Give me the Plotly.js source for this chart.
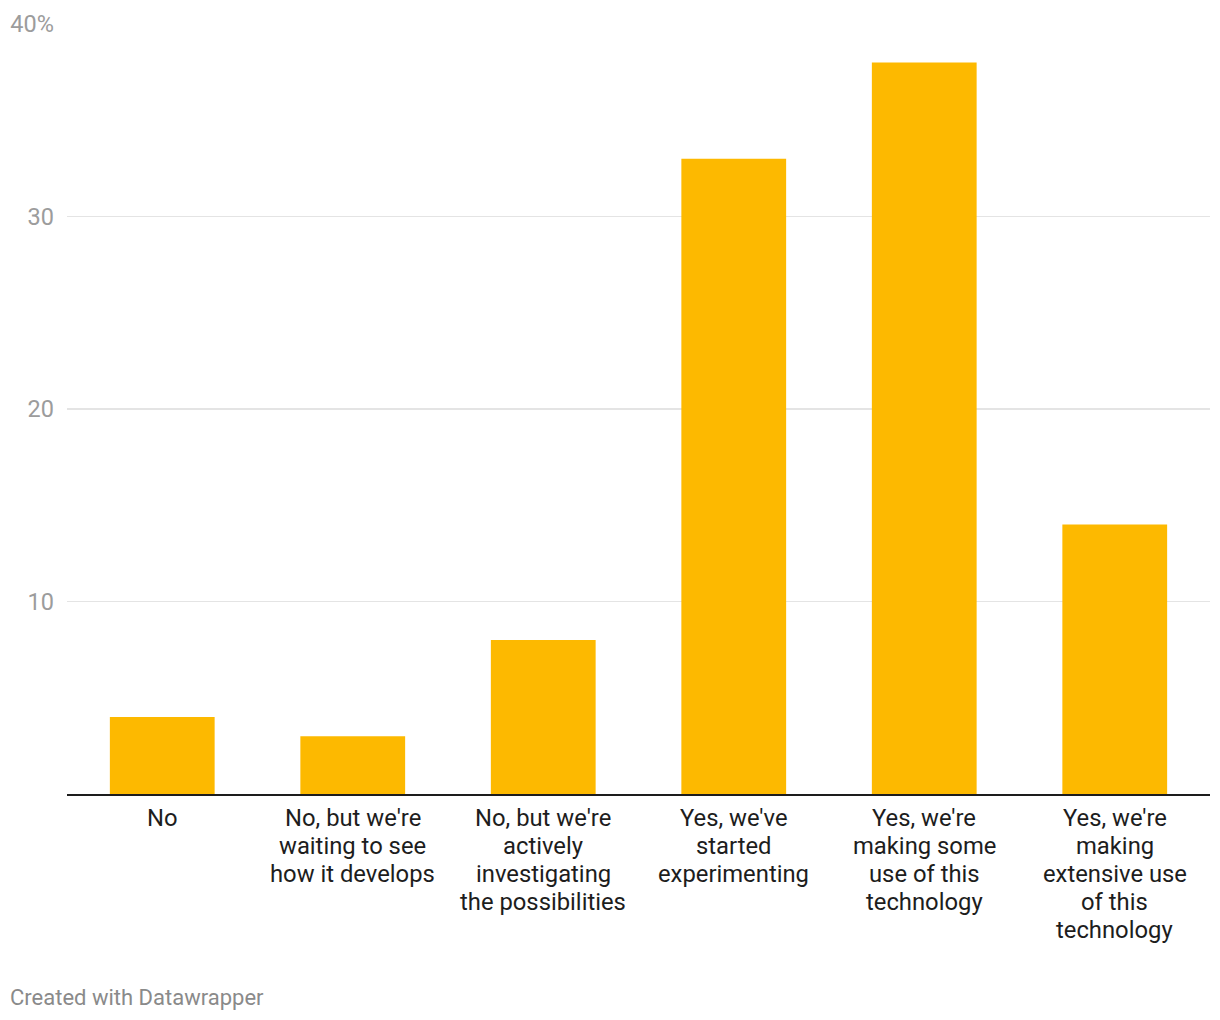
<!DOCTYPE html>
<html>
<head>
<meta charset="utf-8">
<script src="https://cdn.plot.ly/plotly-3.0.1.min.js"></script>
<style>
html,body{margin:0;padding:0;background:#fff;}
#chart{width:1220px;height:1020px;}
</style>
</head>
<body>
<div id="chart"></div>
<script>
const categories = [
  "No",
  "No, but we're<br>waiting to see<br>how it develops",
  "No, but we're<br>actively<br>investigating<br>the possibilities",
  "Yes, we've<br>started<br>experimenting",
  "Yes, we're<br>making some<br>use of this<br>technology",
  "Yes, we're<br>making<br>extensive use<br>of this<br>technology"
];
const values = [4, 3, 8, 33, 38, 14];
const yTickVals = [10, 20, 30, 40];
const yTickText = ["10", "20", "30", "40%"];

const trace = {
  type: 'bar',
  x: categories,
  y: values,
  marker: {color: '#fdb900'},
  hoverinfo: 'none'
};

const annotations = [];
categories.forEach(function (cat, i) {
  cat.split('<br>').forEach(function (line, j) {
    annotations.push({
      text: line,
      xref: 'x', yref: 'y',
      x: cat, y: 0,
      xanchor: 'center', yanchor: 'middle',
      yshift: -(24 + 28 * j),
      showarrow: false,
      font: {size: 23.8, color: '#1d1d1d', family: 'Roboto, sans-serif'}
    });
  });
});
annotations.push({
  text: 'Created with Datawrapper',
  xref: 'paper', yref: 'paper',
  x: -59/1143, y: -(997-794)/770,
  xanchor: 'left', yanchor: 'middle',
  showarrow: false,
  font: {size: 22, color: '#8a8a8a', family: 'Roboto, sans-serif'}
});

const layout = {
  width: 1220,
  height: 1020,
  margin: {l: 67, r: 10, t: 24, b: 226},
  paper_bgcolor: '#ffffff',
  plot_bgcolor: '#ffffff',
  bargap: 0.45,
  showlegend: false,
  font: {family: 'Roboto, sans-serif', color: '#1d1d1d'},
  xaxis: {
    type: 'category',
    showgrid: false,
    showline: true,
    linecolor: '#1d1d1d',
    linewidth: 2,
    ticks: '',
    showticklabels: false,
    fixedrange: true
  },
  yaxis: {
    range: [0, 40],
    tickvals: yTickVals,
    ticktext: yTickText,
    showgrid: true,
    gridcolor: '#e4e4e4',
    gridwidth: 1.5,
    zeroline: false,
    showline: false,
    ticks: '',
    tickfont: {size: 23.5, color: '#9c9c9c', family: 'Roboto, sans-serif'},
    ticklabelstandoff: 12,
    fixedrange: true
  },
  annotations: annotations
};

Plotly.newPlot('chart', [trace], layout, {displayModeBar: false, staticPlot: true});
</script>
</body>
</html>
